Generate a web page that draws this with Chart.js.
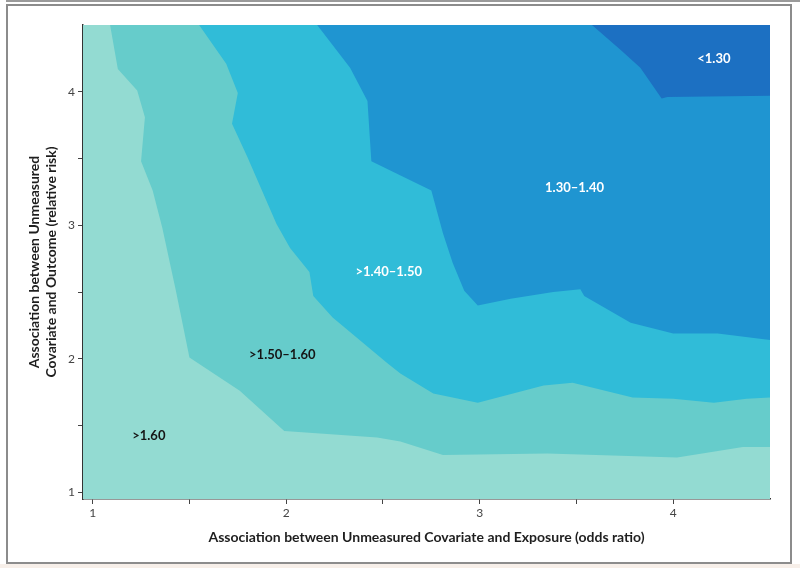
<!DOCTYPE html>
<html>
<head>
<meta charset="utf-8">
<script src="https://cdn.jsdelivr.net/npm/chart.js@4"></script>
<style>
  html, body { margin: 0; padding: 0; background: #fff; }
  #wrap { position: relative; width: 800px; height: 568px; overflow: hidden; }
  #topline { position: absolute; left: 6px; right: 0; top: 0; height: 2px; background: #9a9a9a; }
  #frame { position: absolute; left: 6px; top: 4px; width: 782px; height: 556px; border: 2px solid #8c8c8c; }
  #foot { position: absolute; left: 0; right: 0; top: 564px; bottom: 0; background: #f7efe9; }
  canvas { position: absolute; left: 0; top: 0; }
</style>
</head>
<body>
<div id="wrap">
  <div id="topline"></div>
  <div id="frame"></div>
  <div id="foot"></div>
  <canvas id="chart" width="800" height="568"></canvas>
</div>
<script>
(function () {
  'use strict';

  // axis ranges (odds ratio on x, relative risk on y)
  var X_RANGE = [0.95, 4.5];
  var Y_RANGE = [0.95, 4.5];

  // contour boundaries, from top edge to right edge
  // >1.60 | >1.50–1.60
  var edge160X = [1.09, 1.13, 1.23, 1.27, 1.25, 1.31, 1.36, 1.43, 1.50, 1.76, 1.99, 2.47, 2.59, 2.81, 3.35, 4.02, 4.36, 4.5];
  var edge160Y = [4.5, 4.17, 4.01, 3.81, 3.48, 3.26, 2.98, 2.51, 2.01, 1.76, 1.46, 1.41, 1.38, 1.28, 1.29, 1.26, 1.34, 1.34];
  // >1.50–1.60 | >1.40–1.50
  var edge150X = [1.55, 1.69, 1.75, 1.72, 1.80, 1.95, 2.02, 2.12, 2.14, 2.24, 2.52, 2.59, 2.76, 2.99, 3.33, 3.48, 3.79, 4.0, 4.21, 4.38, 4.5];
  var edge150Y = [4.5, 4.21, 3.99, 3.76, 3.51, 3.01, 2.83, 2.65, 2.47, 2.31, 1.97, 1.89, 1.74, 1.67, 1.80, 1.82, 1.71, 1.70, 1.67, 1.70, 1.71];
  // >1.40–1.50 | 1.30–1.40
  var edge140X = [2.16, 2.33, 2.42, 2.44, 2.75, 2.81, 2.86, 2.92, 2.99, 3.16, 3.38, 3.52, 3.54, 3.78, 4.0, 4.23, 4.5];
  var edge140Y = [4.5, 4.18, 3.93, 3.48, 3.26, 2.94, 2.72, 2.51, 2.40, 2.45, 2.50, 2.52, 2.47, 2.27, 2.19, 2.19, 2.14];
  // 1.30–1.40 | <1.30
  var edge130X = [3.58, 3.73, 3.83, 3.94, 3.97, 4.5];
  var edge130Y = [4.5, 4.31, 4.18, 3.95, 3.96, 3.97];

  var bandLabels = ['>1.60', '>1.50\u20131.60', '>1.40\u20131.50', '1.30\u20131.40', '<1.30'];
  var labelX = [1.29, 1.98, 2.53, 3.49, 4.21];
  var labelY = [1.42, 2.03, 2.65, 3.28, 4.25];

  var xTicks = [1, 1.5, 2, 2.5, 3, 3.5, 4];
  var yTicks = [1, 1.5, 2, 2.5, 3, 3.5, 4];

  var COLORS     = ['#93dbd2', '#66cccb', '#30bcd8', '#1f95d1', '#1c70c2'];
  var TEXT_COLOR = ['#151515', '#151515', '#ffffff', '#ffffff', '#ffffff'];

  var FONT = "Lato, 'Open Sans', sans-serif";

  // polygon = boundary + top-right corner, filled as a shape
  function band(xs, ys, color, order) {
    var pts = xs.map(function (x, i) { return { x: x, y: ys[i] }; });
    pts.push({ x: X_RANGE[1], y: Y_RANGE[1] });
    return {
      data: pts,
      showLine: true,
      fill: 'shape',
      backgroundColor: color,
      borderWidth: 0,
      borderColor: color,
      pointRadius: 0,
      tension: 0,
      order: order
    };
  }

  var bgPlugin = {
    id: 'bg',
    beforeDatasetsDraw: function (chart) {
      var a = chart.chartArea, c = chart.ctx;
      c.save();
      c.fillStyle = COLORS[0];
      c.fillRect(a.left, a.top, a.right - a.left, a.bottom - a.top);
      c.restore();
    }
  };

  var labelPlugin = {
    id: 'bandLabels',
    afterDatasetsDraw: function (chart) {
      var c = chart.ctx, sx = chart.scales.x, sy = chart.scales.y;
      c.save();
      c.font = 'bold 13px ' + FONT;
      c.textAlign = 'center';
      c.textBaseline = 'middle';
      bandLabels.forEach(function (t, i) {
        c.fillStyle = TEXT_COLOR[i];
        c.fillText(t, sx.getPixelForValue(labelX[i]), sy.getPixelForValue(labelY[i]));
      });
      c.restore();
    }
  };

  function tickLabel(v) { return Number.isInteger(v) ? String(v) : ''; }

  new Chart(document.getElementById('chart'), {
    type: 'scatter',
    data: {
      datasets: [
        band(edge160X, edge160Y, COLORS[1], 4),
        band(edge150X, edge150Y, COLORS[2], 3),
        band(edge140X, edge140Y, COLORS[3], 2),
        band(edge130X, edge130Y, COLORS[4], 1)
      ]
    },
    options: {
      responsive: false,
      animation: false,
      layout: { padding: { left: 0, top: 25, right: 30, bottom: 0 } },
      plugins: { legend: { display: false }, tooltip: { enabled: false } },
      scales: {
        x: {
          type: 'linear',
          min: X_RANGE[0], max: X_RANGE[1],
          afterBuildTicks: function (s) { s.ticks = xTicks.map(function (v) { return { value: v }; }); },
          afterFit: function (s) { s.height = 69; },
          ticks: { callback: tickLabel, color: '#444', font: { family: FONT, size: 12 }, padding: 2, maxRotation: 0, autoSkip: false },
          grid: { drawOnChartArea: false, drawTicks: true, tickLength: 5, color: '#444' },
          border: { display: true, color: '#333', width: 1.5 },
          title: {
            display: true,
            text: 'Association between Unmeasured Covariate and Exposure (odds ratio)',
            color: '#1e1e1e',
            font: { family: FONT, size: 14, weight: 'bold' },
            padding: { top: 0, bottom: 22 }
          }
        },
        y: {
          type: 'linear',
          min: Y_RANGE[0], max: Y_RANGE[1],
          afterBuildTicks: function (s) { s.ticks = yTicks.map(function (v) { return { value: v }; }); },
          afterFit: function (s) { s.width = 83; },
          ticks: { callback: tickLabel, color: '#444', font: { family: FONT, size: 12 }, padding: 3, autoSkip: false },
          grid: { drawOnChartArea: false, drawTicks: true, tickLength: 5, color: '#444' },
          border: { display: true, color: '#333', width: 1.5 },
          title: {
            display: true,
            text: ['Association between Unmeasured', 'Covariate and Outcome (relative risk)'],
            color: '#1e1e1e',
            font: { family: FONT, size: 14, weight: 'bold' },
            padding: { top: 26, bottom: 0 }
          }
        }
      }
    },
    plugins: [bgPlugin, labelPlugin]
  });
}());
</script>
</body>
</html>
